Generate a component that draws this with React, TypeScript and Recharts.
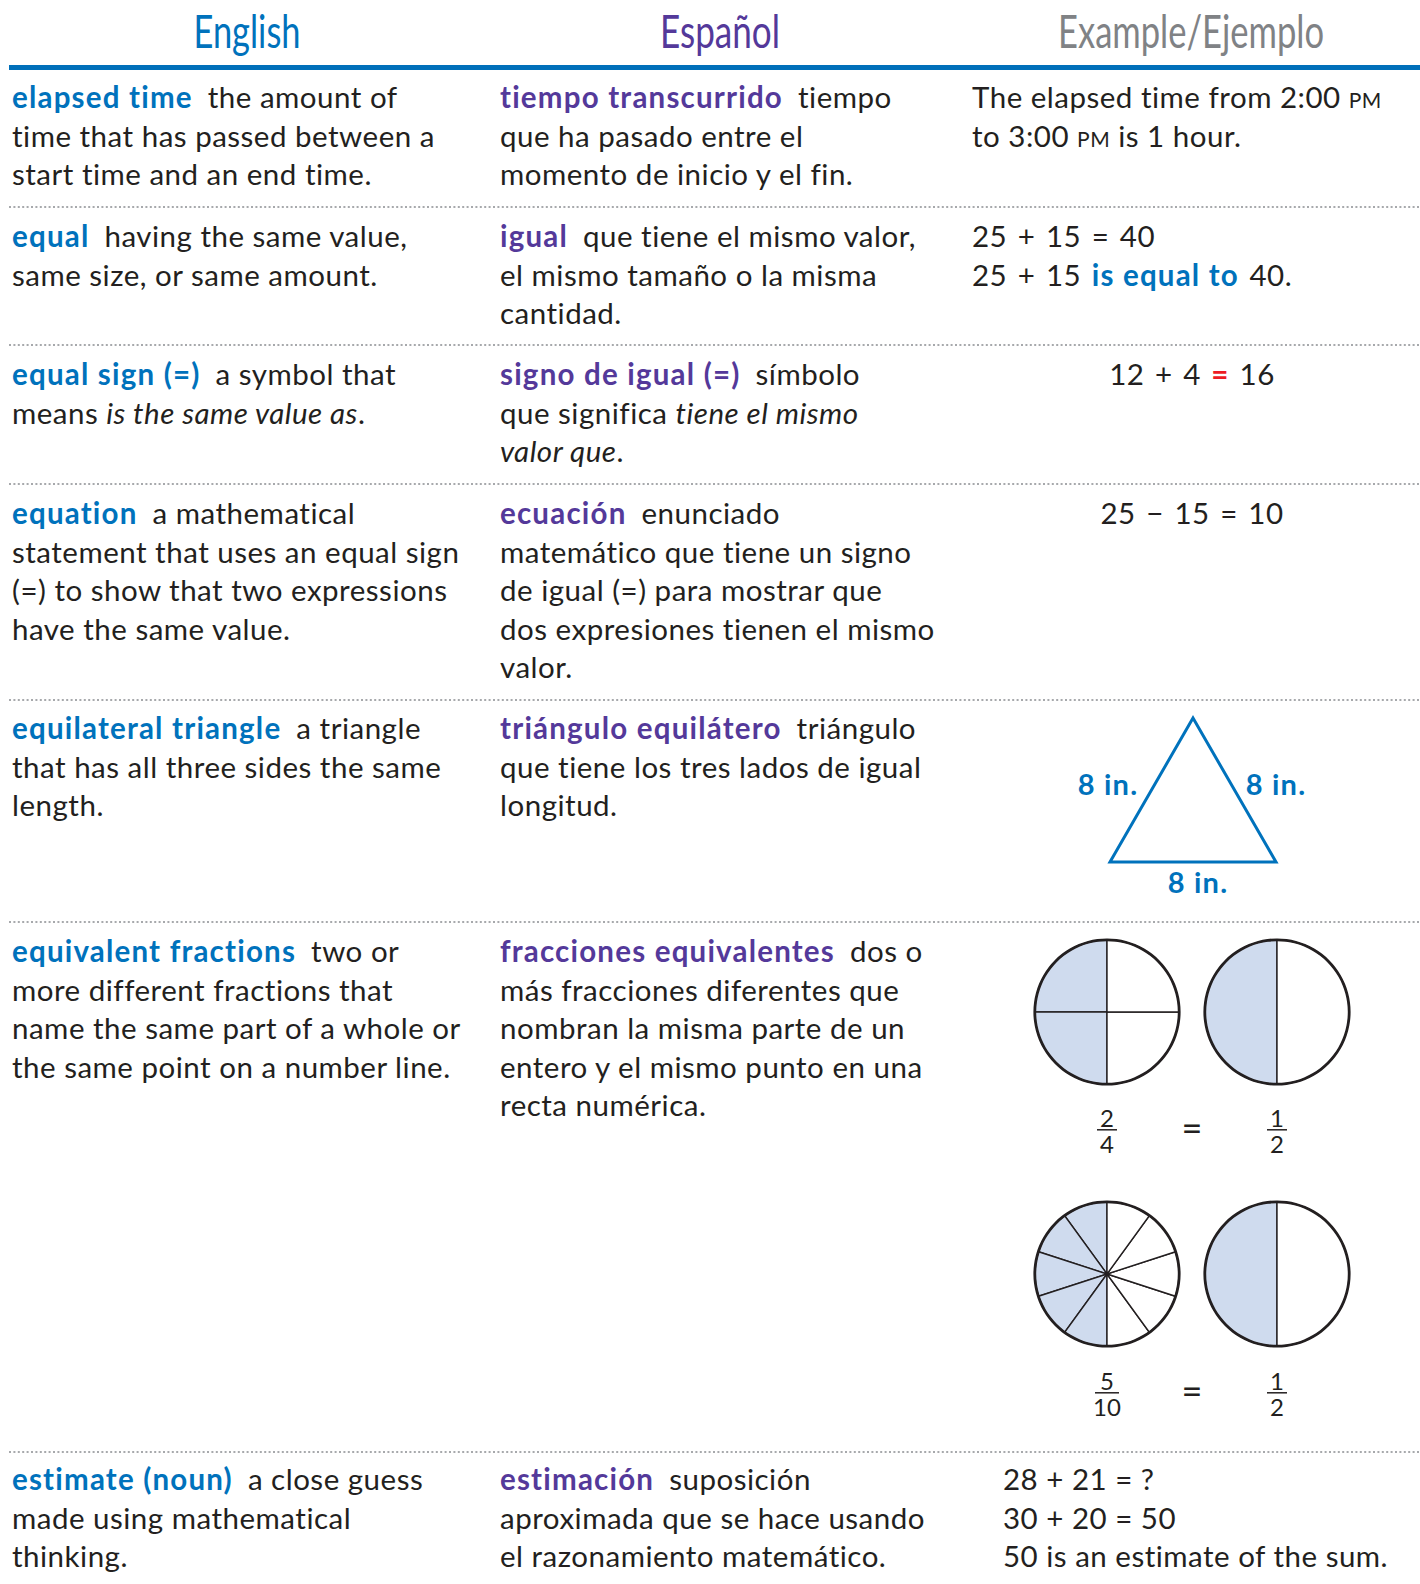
import React from 'react';
import { PieChart, Pie, Cell, LineChart, Line, XAxis, YAxis } from 'recharts';

// ---- content ----
const headers = ['English', 'Español', 'Example/Ejemplo'];

const englishTerms = [
  'elapsed time',
  'equal',
  'equal sign (=)',
  'equation',
  'equilateral triangle',
  'equivalent fractions',
  'estimate (noun)',
];

// first entry of each list continues the term's line
const englishDefs = [
  ['the amount of', 'time that has passed between a', 'start time and an end time.'],
  ['having the same value,', 'same size, or same amount.'],
  ['a symbol that', 'means *is the same value as*.'],
  ['a mathematical', 'statement that uses an equal sign', '(=) to show that two expressions', 'have the same value.'],
  ['a triangle', 'that has all three sides the same', 'length.'],
  ['two or', 'more different fractions that', 'name the same part of a whole or', 'the same point on a number line.'],
  ['a close guess', 'made using mathematical', 'thinking.'],
];

const spanishTerms = [
  'tiempo transcurrido',
  'igual',
  'signo de igual (=)',
  'ecuación',
  'triángulo equilátero',
  'fracciones equivalentes',
  'estimación',
];

const spanishDefs = [
  ['tiempo', 'que ha pasado entre el', 'momento de inicio y el fin.'],
  ['que tiene el mismo valor,', 'el mismo tamaño o la misma', 'cantidad.'],
  ['símbolo', 'que significa *tiene el mismo*', '*valor que*.'],
  ['enunciado', 'matemático que tiene un signo', 'de igual (=) para mostrar que', 'dos expresiones tienen el mismo', 'valor.'],
  ['triángulo', 'que tiene los tres lados de igual', 'longitud.'],
  ['dos o', 'más fracciones diferentes que', 'nombran la misma parte de un', 'entero y el mismo punto en una', 'recta numérica.'],
  ['suposición', 'aproximada que se hace usando', 'el razonamiento matemático.'],
];

// ^..^ small caps, #..# blue bold, ~..~ red bold
const elapsedExample = ['The elapsed time from 2:00 ^PM^', 'to 3:00 ^PM^ is 1 hour.'];
const equalExample = ['25 + 15 = 40', '25 + 15 #is equal to# 40.'];
const equalSignExample = ['12 + 4 ~=~ 16'];
const equationExample = ['25 − 15 = 10'];
const estimateExample = ['28 + 21 = ?', '30 + 20 = 50', '50 is an estimate of the sum.'];

// equilateral triangle, side 8 in.
const triangleVertices = [
  { x: 4, y: 0 },
  { x: 8, y: 0 },
  { x: 4, y: 6.93 },
  { x: 0, y: 0 },
  { x: 4, y: 0 },
];
const sideLabel = '8 in.';

// fraction circles
const quarterParts = [1, 1, 1, 1];
const quarterShaded = [1, 1, 0, 0];
const halfParts = [1, 1];
const halfShaded = [1, 0];
const tenthParts = [1, 1, 1, 1, 1, 1, 1, 1, 1, 1];
const tenthShaded = [1, 1, 1, 1, 1, 0, 0, 0, 0, 0];
const fractionPairs = [
  [{ num: '2', den: '4' }, { num: '1', den: '2' }],
  [{ num: '5', den: '10' }, { num: '1', den: '2' }],
];

// ---- layout / style ----
const FONT = 'Lato, "Noto Sans", sans-serif';
const SIZE = 29.5;
const SPACING = 0.5;
const BOLD_SPACING = 1.2;
const LINE_H = 38.5;
const INK = '#231f20';
const BLUE = '#0072bc';
const PURPLE = '#54399a';
const GREY = '#808285';
const RED = '#ed1c24';
const SHADE = '#cfdbee';

const COL_X = [12, 500, 972];
const ROW_BASE = [108, 247, 385, 524, 739, 962, 1490];
const SEPARATORS = [207, 345, 484, 700, 922, 1452];

const renderMarked = (line: string, key: string, math = false) => {
  const parts = line.split(/(\^[^^]*\^|#[^#]*#|~[^~]*~|\*[^*]*\*)/).filter((p) => p !== '');
  return parts.map((p, i) => {
    const inner = p.slice(1, -1);
    if (p.startsWith('^')) return <tspan key={key + i} fontSize={21}>{inner}</tspan>;
    if (p.startsWith('#'))
      return (
        <tspan key={key + i} fill={BLUE} fontWeight={700} letterSpacing={BOLD_SPACING}>
          {inner}
        </tspan>
      );
    if (p.startsWith('~')) return <tspan key={key + i} fill={RED} fontWeight={700}>{inner}</tspan>;
    if (p.startsWith('*')) return <tspan key={key + i} fontStyle="italic">{inner}</tspan>;
    return (
      <tspan key={key + i} style={math ? { wordSpacing: '2.5px' } : undefined}>
        {p}
      </tspan>
    );
  });
};

const Entry = ({ x, base, term, defs, color }: { x: number; base: number; term: string; defs: string[]; color: string }) => (
  <g>
    <text x={x} y={base}>
      <tspan fill={color} fontWeight={700} letterSpacing={BOLD_SPACING}>{term}</tspan>
      <tspan dx={15}>{renderMarked(defs[0], 'a')}</tspan>
    </text>
    {defs.slice(1).map((line, i) => (
      <text key={i} x={x} y={base + LINE_H * (i + 1)}>
        {renderMarked(line, 'b' + i)}
      </text>
    ))}
  </g>
);

const ExampleLines = ({
  x,
  base,
  lines,
  anchor = 'start',
  math = false,
}: {
  x: number;
  base: number;
  lines: string[];
  anchor?: 'start' | 'middle';
  math?: boolean;
}) => (
  <g>
    {lines.map((line, i) => (
      <text key={i} x={x} y={base + LINE_H * i} textAnchor={anchor}>
        {renderMarked(line, 'e' + i, math)}
      </text>
    ))}
  </g>
);

const FractionCircle = ({ parts, shaded, left, top }: { parts: number[]; shaded: number[]; left: number; top: number }) => {
  const data = parts.map((v, i) => ({ name: `part${i}`, value: v, shaded: shaded[i] }));
  return (
    <div style={{ position: 'absolute', left, top }}>
      <PieChart width={150} height={150} margin={{ top: 0, right: 0, bottom: 0, left: 0 }}>
        <Pie
          data={data}
          dataKey="value"
          cx={75}
          cy={75}
          outerRadius={72}
          startAngle={90}
          endAngle={450}
          stroke={INK}
          strokeWidth={1.4}
          isAnimationActive={false}
        >
          {data.map((d, i) => (
            <Cell key={i} fill={d.shaded ? SHADE : '#ffffff'} />
          ))}
        </Pie>
        <Pie
          data={[{ name: 'rim', value: 1 }]}
          dataKey="value"
          cx={75}
          cy={75}
          innerRadius={70.8}
          outerRadius={73.6}
          startAngle={90}
          endAngle={450}
          fill={INK}
          stroke="none"
          isAnimationActive={false}
        />
      </PieChart>
    </div>
  );
};

const Fraction = ({ x, base, num, den }: { x: number; base: number; num: string; den: string }) => {
  const half = den.length > 1 ? 12 : 10;
  return (
    <g fontSize={24} letterSpacing={0}>
      <text x={x} y={base} textAnchor="middle">{num}</text>
      <line x1={x - half} x2={x + half} y1={base + 2.8} y2={base + 2.8} stroke={INK} strokeWidth={1.5} />
      <text x={x} y={base + 26} textAnchor="middle">{den}</text>
    </g>
  );
};

const App: React.FC = () => {
  return (
    <div
      style={{
        position: 'absolute',
        left: 0,
        top: 0,
        width: 1420,
        height: 1584,
        background: '#ffffff',
        overflow: 'hidden',
      }}
    >
      <svg
        width={1420}
        height={1584}
        style={{ position: 'absolute', left: 0, top: 0 }}
        fontFamily={FONT}
        fontSize={SIZE}
        letterSpacing={SPACING}
        fill={INK}
      >
        {/* header */}
        <g letterSpacing={0}>
          <text x={247} y={48} textAnchor="middle" fill={BLUE} fontSize={46} textLength={107} lengthAdjust="spacingAndGlyphs">
            {headers[0]}
          </text>
          <text x={720} y={48} textAnchor="middle" fill={PURPLE} fontSize={46} textLength={120} lengthAdjust="spacingAndGlyphs">
            {headers[1]}
          </text>
          <text x={1191} y={48} textAnchor="middle" fill={GREY} fontSize={46} textLength={266} lengthAdjust="spacingAndGlyphs">
            {headers[2]}
          </text>
        </g>
        <rect x={9} y={65} width={1411} height={5} fill="#0070ba" />

        {/* dotted separators */}
        {SEPARATORS.map((y) => (
          <line key={y} x1={9} x2={1420} y1={y} y2={y} stroke="#a7a9ac" strokeWidth={2} strokeDasharray="2 2.4" />
        ))}

        {/* English and Spanish columns */}
        {englishTerms.map((t, i) => (
          <Entry key={'en' + i} x={COL_X[0]} base={ROW_BASE[i]} term={t} defs={englishDefs[i]} color={BLUE} />
        ))}
        {spanishTerms.map((t, i) => (
          <Entry key={'es' + i} x={COL_X[1]} base={ROW_BASE[i]} term={t} defs={spanishDefs[i]} color={PURPLE} />
        ))}

        {/* examples */}
        <ExampleLines x={COL_X[2]} base={ROW_BASE[0]} lines={elapsedExample} />
        <ExampleLines x={COL_X[2]} base={ROW_BASE[1]} lines={equalExample} math />
        <ExampleLines x={1192} base={ROW_BASE[2]} lines={equalSignExample} anchor="middle" math />
        <ExampleLines x={1192} base={ROW_BASE[3]} lines={equationExample} anchor="middle" math />
        <ExampleLines x={1003} base={ROW_BASE[6]} lines={estimateExample} />

        {/* triangle labels */}
        <g fill={BLUE} fontWeight={700} fontSize={29} letterSpacing={1.2}>
          <text x={1108} y={795} textAnchor="middle">{sideLabel}</text>
          <text x={1276} y={795} textAnchor="middle">{sideLabel}</text>
          <text x={1198} y={893} textAnchor="middle">{sideLabel}</text>
        </g>

        {/* fractions */}
        {fractionPairs.map((pair, i) => {
          const base = 1127 + i * 263;
          return (
            <g key={'fr' + i}>
              <Fraction x={1107} base={base} num={pair[0].num} den={pair[0].den} />
              <text x={1192} y={base + 14} textAnchor="middle" fontSize={36} letterSpacing={0}>=</text>
              <Fraction x={1277} base={base} num={pair[1].num} den={pair[1].den} />
            </g>
          );
        })}
      </svg>

      {/* equilateral triangle */}
      <div style={{ position: 'absolute', left: 1100, top: 708 }}>
        <LineChart width={186} height={164} data={triangleVertices} margin={{ top: 10, right: 10, bottom: 10, left: 10 }}>
          <XAxis dataKey="x" type="number" domain={[0, 8]} hide />
          <YAxis type="number" domain={[0, 6.93]} hide />
          <Line
            type="linear"
            dataKey="y"
            stroke={BLUE}
            strokeWidth={3}
            strokeLinejoin="miter"
            dot={false}
            isAnimationActive={false}
          />
        </LineChart>
      </div>

      {/* fraction circles */}
      <FractionCircle parts={quarterParts} shaded={quarterShaded} left={1032} top={937} />
      <FractionCircle parts={halfParts} shaded={halfShaded} left={1202} top={937} />
      <FractionCircle parts={tenthParts} shaded={tenthShaded} left={1032} top={1199} />
      <FractionCircle parts={halfParts} shaded={halfShaded} left={1202} top={1199} />
    </div>
  );
};

export default App;
